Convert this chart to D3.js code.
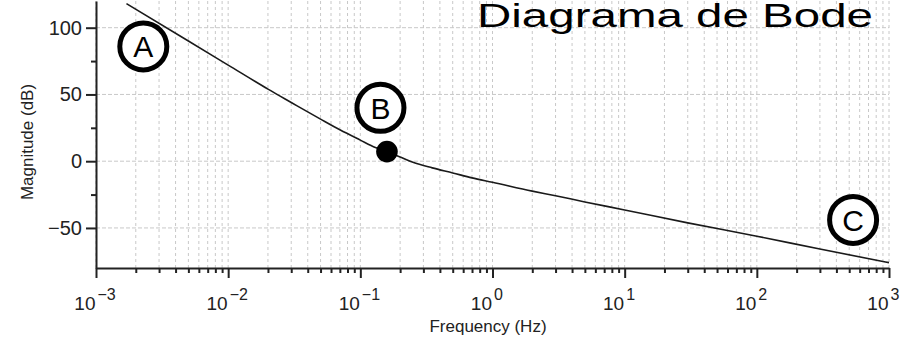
<!DOCTYPE html>
<html>
<head>
<meta charset="utf-8">
<script src="https://cdn.jsdelivr.net/npm/d3@7"></script>
<style>
  body { margin: 0; background: #fff; }
  svg { display: block; font-family: "Liberation Sans", Arial, sans-serif; }
  .grid-x line { stroke: #c8c8c8; stroke-width: 1; stroke-dasharray: 3,3; }
  .grid-y line { stroke: #c8c8c8; stroke-width: 1; stroke-dasharray: 4,2; }
  .axis path, .axis line { stroke: #222; stroke-width: 2; }
</style>
</head>
<body>
<svg id="chart" width="906" height="337"></svg>
<script>
// Magnitude curve (frequency in Hz, magnitude in dB)
const freq = [0.0017, 0.005, 0.01, 0.02, 0.03, 0.05, 0.07, 0.1, 0.13, 0.159, 0.2, 0.25, 0.35, 0.5, 0.7, 1, 2, 3, 5, 10, 30, 100, 300, 1000];
const magDb = [118, 90, 72, 54, 44, 31.5, 23.5, 15.8, 10.3, 7.2, 3.2, -0.8, -5, -8.8, -12.5, -15.8, -22.4, -25.9, -30.5, -36.5, -46.2, -56.2, -65.8, -76];

// highlighted point B
const markerPoint = [0.159, 7.2];

// annotation circles: label, frequency, dB
const annLabels = ['A', 'B', 'C'];
const annFreq = [0.00228, 0.142, 535];
const annDb = [86, 40, -44];

const yMajor = [100, 50, 0, -50];
const yMinor = [75, 25, -25];
const xMajorExp = [-3, -2, -1, 0, 1, 2, 3];

const margin = { top: 1, right: 17, bottom: 69, left: 96 };
const W = 906;
const H = 337;
const width = W - margin.left - margin.right;
const height = H - margin.top - margin.bottom;

const svg = d3.select('#chart');
const g = svg.append('g').attr('transform', `translate(${margin.left},${margin.top})`);

const x = d3.scaleLog().domain([1e-3, 1e3]).range([0, width]);
const y = d3.scaleLinear().domain([-80, 120]).range([height, 0]);

const xMajor = xMajorExp.map((e) => 10 ** e);
const xMinor = [];
xMajorExp.slice(0, -1).forEach((e) => {
  for (let k = 2; k <= 9; k += 1) xMinor.push(k * 10 ** e);
});

// grid lines
g.append('g').attr('class', 'grid-x')
  .selectAll('line')
  .data(xMajor.concat(xMinor))
  .join('line')
  .attr('x1', (d) => x(d))
  .attr('x2', (d) => x(d))
  .attr('y1', 0)
  .attr('y2', height);

g.append('g').attr('class', 'grid-y')
  .selectAll('line')
  .data(yMajor)
  .join('line')
  .attr('x1', 0)
  .attr('x2', width)
  .attr('y1', (d) => y(d))
  .attr('y2', (d) => y(d));

// axes: minor ticks first, then majors with the domain line
g.append('g').attr('class', 'axis')
  .attr('transform', `translate(0,${height})`)
  .call(d3.axisBottom(x).tickValues(xMinor).tickSize(5).tickSizeOuter(0).tickFormat(''))
  .call((s) => s.select('.domain').remove());

const xAxis = g.append('g').attr('class', 'axis')
  .attr('transform', `translate(0,${height})`)
  .call(d3.axisBottom(x).tickValues(xMajor).tickSize(10).tickSizeOuter(0).tickFormat(''));

g.append('g').attr('class', 'axis')
  .call(d3.axisLeft(y).tickValues(yMinor).tickSize(5).tickSizeOuter(0).tickFormat(''))
  .call((s) => s.select('.domain').remove());

const yAxis = g.append('g').attr('class', 'axis')
  .call(d3.axisLeft(y).tickValues(yMajor).tickSize(10).tickSizeOuter(0)
    .tickFormat((d) => String(d).replace('-', '\u2212')));

yAxis.selectAll('text')
  .attr('x', -14)
  .attr('fill', '#222')
  .style('font-size', '20px');

// x tick labels: "10" left of the tick, exponent right of it
const xTicks = xAxis.selectAll('.tick');
xTicks.append('text')
  .attr('fill', '#222')
  .attr('text-anchor', 'end')
  .attr('x', -1)
  .attr('y', 42)
  .style('font-size', '19px')
  .text('10');
xTicks.append('text')
  .attr('fill', '#222')
  .attr('text-anchor', 'start')
  .attr('x', 1)
  .attr('y', 32)
  .style('font-size', '16px')
  .text((d, i) => String(xMajorExp[i]).replace('-', '\u2212'));

// axis labels
g.append('text')
  .attr('x', 392)
  .attr('y', height + 64)
  .attr('text-anchor', 'middle')
  .attr('fill', '#222')
  .style('font-size', '17px')
  .text('Frequency (Hz)');

g.append('text')
  .attr('transform', `translate(${33 - margin.left},141) rotate(-90)`)
  .attr('text-anchor', 'middle')
  .attr('fill', '#222')
  .style('font-size', '17px')
  .text('Magnitude (dB)');

// magnitude curve
const pts = freq.map((f, i) => [f, magDb[i]]);
const line = d3.line()
  .x((d) => x(d[0]))
  .y((d) => y(d[1]))
  .curve(d3.curveMonotoneX);

g.append('path')
  .datum(pts)
  .attr('fill', 'none')
  .attr('stroke', '#1a1a1a')
  .attr('stroke-width', 1.6)
  .attr('d', line);

g.append('circle')
  .attr('cx', x(markerPoint[0]))
  .attr('cy', y(markerPoint[1]))
  .attr('r', 10.8)
  .attr('fill', '#000');

// annotation circles
const ann = g.selectAll('.ann')
  .data(annLabels)
  .join('g')
  .attr('class', 'ann')
  .attr('transform', (d, i) => `translate(${x(annFreq[i])},${y(annDb[i])})`);

ann.append('circle')
  .attr('r', 23.5)
  .attr('fill', '#fff')
  .attr('stroke', '#000')
  .attr('stroke-width', 5);

ann.append('text')
  .attr('text-anchor', 'middle')
  .attr('dy', '0.36em')
  .style('font-size', '30px')
  .attr('fill', '#000')
  .text((d) => d);

// title, pushed just inside the top edge
svg.append('text')
  .attr('x', 477)
  .attr('y', 27)
  .attr('textLength', 396)
  .attr('lengthAdjust', 'spacingAndGlyphs')
  .style('font-size', '34px')
  .attr('fill', '#000')
  .text('Diagrama de Bode');
</script>
</body>
</html>
